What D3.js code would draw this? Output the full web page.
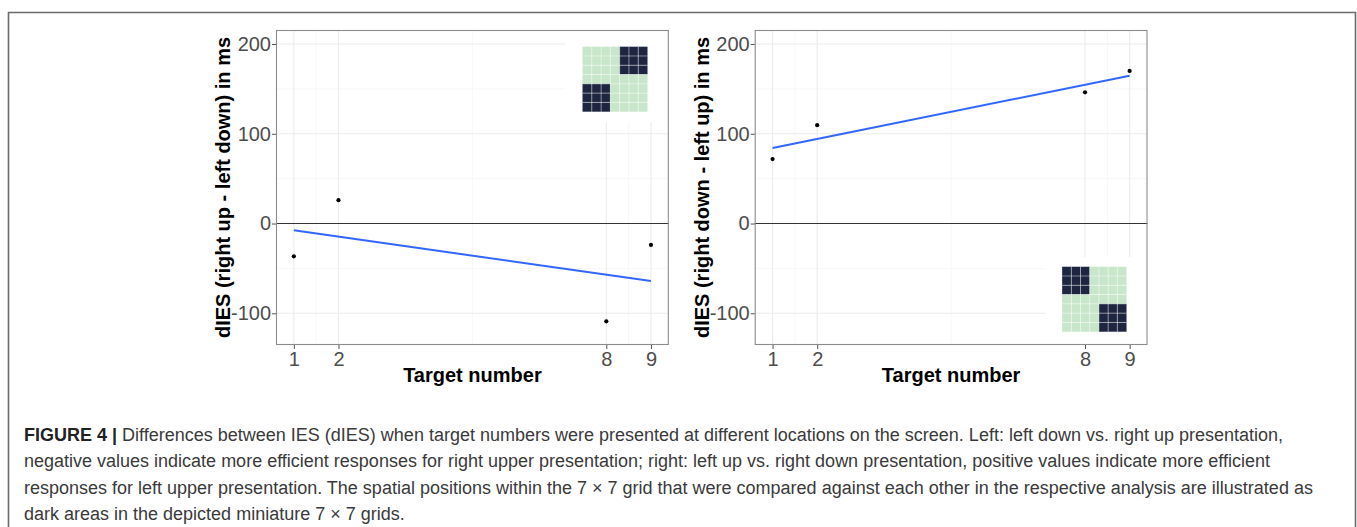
<!DOCTYPE html>
<html>
<head>
<meta charset="utf-8">
<script src="https://cdn.jsdelivr.net/npm/d3@7"></script>
<style>
  html, body { margin: 0; padding: 0; background: #fff; }
  svg { display: block; }
</style>
</head>
<body>
<svg id="fig" width="1357" height="527"></svg>
<script>
// Target numbers on the x axis
const targets = [1, 2, 8, 9];
const xTicks = [1, 2, 8, 9];
const xMinor = [1.5, 5, 8.5];
const yTicks = [-100, 0, 100, 200];
const yMinor = [-50, 50, 150];

// dIES per target number
const diesRightUpLeftDown = [-36.5, 26, -108.9, -23.8];
const diesRightDownLeftUp = [71.8, 109.6, 146.2, 170];

const yTitles = ["dIES (right up - left down) in ms", "dIES (right down - left up) in ms"];
const xTitle = "Target number";

// Miniature 7 x 7 grids: dark blocks as [col0, row0] of 3 x 3 squares
const darkBlocksLeft = [[4, 0], [0, 4]];
const darkBlocksRight = [[0, 0], [4, 4]];

const captionLead = "FIGURE 4 |";
const captionLines = [
  " Differences between IES (dIES) when target numbers were presented at different locations on the screen. Left: left down vs. right up presentation,",
  "negative values indicate more efficient responses for right upper presentation; right: left up vs. right down presentation, positive values indicate more efficient",
  "responses for left upper presentation. The spatial positions within the 7 \u00d7 7 grid that were compared against each other in the respective analysis are illustrated as",
  "dark areas in the depicted miniature 7 \u00d7 7 grids."
];

const svg = d3.select("#fig");
const FONT = "'Liberation Sans', Arial, Helvetica, sans-serif";

// outer figure frame
svg.append("path")
  .attr("d", "M8.5,540 L8.5,12.5 L1355.5,12.5 L1355.5,540")
  .attr("fill", "none").attr("stroke", "#6b6b6b").attr("stroke-width", 1.6);

const panels = [
  { left: 276, values: diesRightUpLeftDown, title: yTitles[0], blocks: darkBlocksLeft,
    pad: { x0: 7.07, x1: 9.4, y0: 113.1, y1: 215.6 }, img: { x0: 7.467, x1: 8.923, y0: 124.6, y1: 197 } },
  { left: 754.7, values: diesRightDownLeftUp, title: yTitles[1], blocks: darkBlocksRight,
    pad: { x0: 7.1, x1: 9.4, y0: -135.3, y1: -37.3 }, img: { x0: 7.488, x1: 8.93, y0: -120.5, y1: -48.1 } }
];

const plotTop = 30, plotBottom = 345, plotWidth = 392.8;

// ASCII hyphen for negative tick labels
const tickFmt = d => String(d);

function leastSquares(xs, ys) {
  const n = xs.length;
  const mx = d3.mean(xs), my = d3.mean(ys);
  let sxy = 0, sxx = 0;
  for (let i = 0; i < n; i++) { sxy += (xs[i] - mx) * (ys[i] - my); sxx += (xs[i] - mx) ** 2; }
  const b = sxy / sxx;
  return v => my + b * (v - mx);
}

panels.forEach(p => {
  const x = d3.scaleLinear().domain([0.6, 9.4]).range([p.left, p.left + plotWidth]);
  const y = d3.scaleLinear().domain([-135.3, 215.6]).range([plotBottom, plotTop]);
  const g = svg.append("g");

  // minor grid
  g.selectAll(".vmin").data(xMinor).enter().append("line")
    .attr("x1", d => x(d)).attr("x2", d => x(d)).attr("y1", plotTop).attr("y2", plotBottom)
    .attr("stroke", "#f2f2f2").attr("stroke-width", 0.6);
  g.selectAll(".hmin").data(yMinor).enter().append("line")
    .attr("y1", d => y(d)).attr("y2", d => y(d)).attr("x1", p.left).attr("x2", p.left + plotWidth)
    .attr("stroke", "#f2f2f2").attr("stroke-width", 0.6);
  // major grid
  g.selectAll(".vmaj").data(xTicks).enter().append("line")
    .attr("x1", d => x(d)).attr("x2", d => x(d)).attr("y1", plotTop).attr("y2", plotBottom)
    .attr("stroke", "#ebebeb").attr("stroke-width", 1.1);
  g.selectAll(".hmaj").data(yTicks).enter().append("line")
    .attr("y1", d => y(d)).attr("y2", d => y(d)).attr("x1", p.left).attr("x2", p.left + plotWidth)
    .attr("stroke", "#ebebeb").attr("stroke-width", 1.1);

  // white backing of the miniature grid
  g.append("rect")
    .attr("x", x(p.pad.x0)).attr("y", y(p.pad.y1))
    .attr("width", x(p.pad.x1) - x(p.pad.x0)).attr("height", y(p.pad.y0) - y(p.pad.y1))
    .attr("fill", "#fff");

  // miniature 7 x 7 grid
  const gx0 = x(p.img.x0), gx1 = x(p.img.x1), gy0 = y(p.img.y1), gy1 = y(p.img.y0);
  const cw = (gx1 - gx0) / 7, ch = (gy1 - gy0) / 7;
  const cells = [];
  for (let r = 0; r < 7; r++) for (let c = 0; c < 7; c++) {
    const dark = p.blocks.some(([bc, br]) => c >= bc && c < bc + 3 && r >= br && r < br + 3);
    cells.push({ r, c, dark });
  }
  g.selectAll(".cell").data(cells).enter().append("rect")
    .attr("x", d => gx0 + d.c * cw).attr("y", d => gy0 + d.r * ch)
    .attr("width", cw).attr("height", ch)
    .attr("fill", d => d.dark ? "#1d2540" : "#c8e6ca");
  for (let i = 1; i < 7; i++) {
    g.append("line").attr("x1", gx0 + i * cw).attr("x2", gx0 + i * cw).attr("y1", gy0).attr("y2", gy1)
      .attr("stroke", "#ffffff").attr("stroke-opacity", 0.55).attr("stroke-width", 0.8);
    g.append("line").attr("y1", gy0 + i * ch).attr("y2", gy0 + i * ch).attr("x1", gx0).attr("x2", gx1)
      .attr("stroke", "#ffffff").attr("stroke-opacity", 0.55).attr("stroke-width", 0.8);
  }

  // zero reference line
  g.append("line").attr("x1", p.left).attr("x2", p.left + plotWidth)
    .attr("y1", y(0)).attr("y2", y(0)).attr("stroke", "#333").attr("stroke-width", 1.1);

  // linear fit
  const fit = leastSquares(targets, p.values);
  g.append("line")
    .attr("x1", x(1)).attr("y1", y(fit(1))).attr("x2", x(9)).attr("y2", y(fit(9)))
    .attr("stroke", "#3366ff").attr("stroke-width", 2);

  // points
  g.selectAll(".pt").data(targets).enter().append("circle")
    .attr("cx", d => x(d)).attr("cy", (d, i) => y(p.values[i])).attr("r", 2.1)
    .attr("fill", "#000");

  // panel border
  g.append("rect").attr("x", p.left + 0.5).attr("y", plotTop + 0.5)
    .attr("width", plotWidth - 1).attr("height", plotBottom - plotTop - 1)
    .attr("fill", "none").attr("stroke", "#8c8c8c").attr("stroke-width", 1.1);

  // axes
  const xAxis = d3.axisBottom(x).tickValues(xTicks).tickSize(4).tickPadding(3).tickFormat(tickFmt);
  const yAxis = d3.axisLeft(y).tickValues(yTicks).tickSize(4).tickPadding(1).tickFormat(tickFmt);
  const gxA = g.append("g").attr("transform", `translate(0,${plotBottom})`).call(xAxis);
  const gyA = g.append("g").attr("transform", `translate(${p.left},0)`).call(yAxis);
  [gxA, gyA].forEach(a => {
    a.select(".domain").remove();
    a.selectAll(".tick line").attr("stroke", "#555").attr("stroke-width", 1);
    a.selectAll(".tick text").attr("fill", "#4d4d4d").style("font-family", FONT).style("font-size", "20px");
  });

  // axis titles
  g.append("text").attr("x", p.left + plotWidth / 2).attr("y", 382)
    .attr("text-anchor", "middle").style("font-family", FONT).style("font-size", "20px")
    .style("font-weight", "bold").attr("fill", "#000").text(xTitle);
  g.append("text")
    .attr("transform", `translate(${p.left - 46},${(plotTop + plotBottom) / 2}) rotate(-90)`)
    .attr("text-anchor", "middle")
    .style("font-family", FONT).style("font-size", "20px").style("font-weight", "bold")
    .attr("fill", "#000").text(p.title);
});

// caption
const cap = svg.append("g").style("font-family", FONT).style("font-size", "18px").attr("fill", "#3a3a3a");
captionLines.forEach((line, i) => {
  const t = cap.append("text").attr("x", 24).attr("y", 441 + i * 26.3);
  if (i === 0) {
    t.append("tspan").style("font-weight", "bold").attr("fill", "#222").text(captionLead);
  }
  t.append("tspan").text(line);
});
</script>
</body>
</html>
